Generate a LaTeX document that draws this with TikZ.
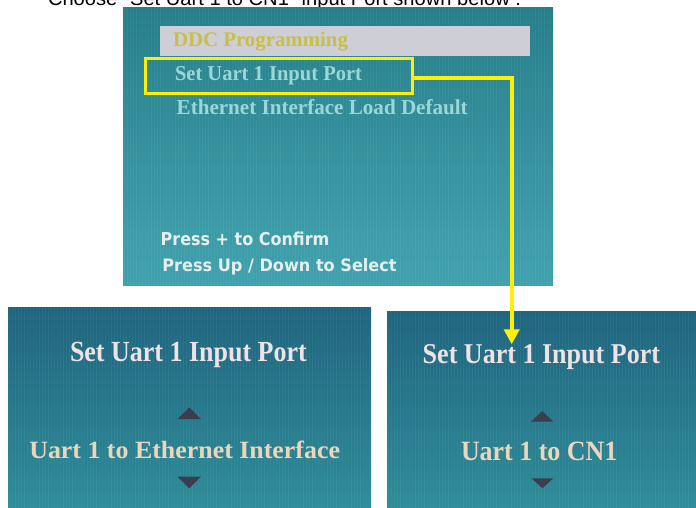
\documentclass[tikz,border=0pt]{standalone}
\usepackage{fontspec}
\usepackage{graphicx}
\usetikzlibrary{arrows.meta}
\setmainfont{Liberation Serif}
\newfontfamily\capfont{Liberation Sans}
\newfontfamily\osdsans{DejaVu Sans}
\definecolor{topTeal}{RGB}{38,126,138}
\definecolor{botTeal}{RGB}{64,162,174}
\definecolor{scrTop}{RGB}{30,100,126}
\definecolor{scrBot}{RGB}{46,140,152}
\definecolor{barGrey}{RGB}{206,206,214}
\definecolor{ddcYel}{RGB}{200,190,72}
\definecolor{menuCyan}{RGB}{155,215,215}
\definecolor{pressWhite}{RGB}{232,238,238}
\definecolor{titlePink}{RGB}{240,226,228}
\definecolor{optBeige}{RGB}{234,214,188}
\definecolor{triDark}{RGB}{58,62,78}
\definecolor{hiYellow}{RGB}{252,240,8}
\newcommand{\fitw}[3]{\resizebox{#1pt}{#2pt}{#3}}
\tikzset{
  txt/.style={anchor=base west, inner sep=0pt, outer sep=0pt},
  tri/.style={fill=triDark},
  hilite/.style={draw=hiYellow, line width=3.3pt},
  link/.style={draw=hiYellow, line width=4pt, -{Triangle[width=15pt,length=15pt]}},
  stripes/.style={draw=white, opacity=0.05, line width=0.8pt}
}
\begin{document}
\begin{tikzpicture}[x=1pt,y=-1pt]
\useasboundingbox (0,0) rectangle (696,508);
\clip (0,0) rectangle (696,508);
\fill[white] (0,0) rectangle (696,508);
% caption (cut at top)
\node[txt] (cap) at (48,6) {\fitw{473}{14.5}{\capfont Choose "Set Uart 1 to CN1" input Port shown below :}};
% top screen
\shade[top color=topTeal, bottom color=botTeal] (123,8) rectangle (553,285);
\foreach \x in {124,127,...,552} \draw[stripes] (\x,8) -- (\x,285);
\node[fill=barGrey, inner sep=0pt, minimum width=370.5pt, minimum height=30pt, anchor=north west] (ddcbar) at (159.5,26) {};
\node[txt, text=ddcYel] (ddc) at (173,46.7) {\fitw{175}{14.4}{\bfseries DDC Programming}};
\node[txt, text=menuCyan] (seltxt) at (175,80.7) {\fitw{187}{14}{\bfseries Set Uart 1 Input Port}};
\node[txt, text=menuCyan] (eth) at (176.7,115) {\fitw{291}{15}{\bfseries Ethernet Interface Load Default}};
\node[txt, text=pressWhite] (conf) at (160.7,245) {\fitw{168.6}{13.5}{\osdsans\bfseries Press + to Confirm}};
\node[txt, text=pressWhite] (updown) at (162.3,271.7) {\fitw{234.4}{13}{\osdsans\bfseries Press Up / Down to Select}};
% highlight box
\node[hilite, inner sep=0pt, minimum width=267.5pt, minimum height=35.3pt, anchor=north west] (sel) at (143.5,56.7) {};
% bottom-left screen
\shade[top color=scrTop, bottom color=scrBot] (8,307) rectangle (371,508);
\foreach \x in {9,12,...,370} \draw[stripes] (\x,307) -- (\x,508);
\node[txt, text=titlePink] (bltitle) at (70,361) {\fitw{236.7}{19.3}{\bfseries Set Uart 1 Input Port}};
\fill[tri] (189.3,407.3) -- (201,419) -- (177.7,419) -- cycle;
\node[txt, text=optBeige] (blopt) at (29.3,458.3) {\fitw{310.7}{17.5}{\bfseries Uart 1 to Ethernet Interface}};
\fill[tri] (177.7,476.7) -- (201,476.7) -- (189.3,488.3) -- cycle;
% bottom-right screen
\shade[top color=scrTop, bottom color=scrBot] (387,311) rectangle (696,508);
\foreach \x in {388,391,...,695} \draw[stripes] (\x,311) -- (\x,508);
\node[txt, text=titlePink] (brtitle) at (422.7,363.3) {\fitw{237.3}{19}{\bfseries Set Uart 1 Input Port}};
\fill[tri] (542.3,411) -- (553.3,421.7) -- (531,421.7) -- cycle;
\node[txt, text=optBeige] (bropt) at (461,460.7) {\fitw{156.3}{18.5}{\bfseries Uart 1 to CN1}};
\fill[tri] (531.5,478.3) -- (553.3,478.3) -- (542.4,488.3) -- cycle;
% connector
\coordinate (turn) at (511.7,78);
\draw[link] (sel.east |- turn) -- (turn) -- (turn |- brtitle.north);
\end{tikzpicture}
\end{document}
